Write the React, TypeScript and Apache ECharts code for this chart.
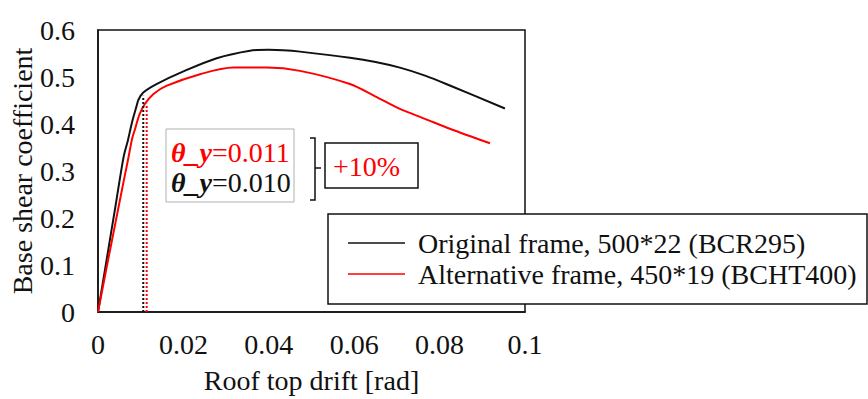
import React, { useEffect, useRef } from "react";
import * as echarts from "echarts";

const FONT = "Liberation Serif, serif";

const seriesNames = [
  "Original frame, 500*22 (BCR295)",
  "Alternative frame, 450*19 (BCHT400)",
];

const originalDrift = [0, 0.002, 0.004, 0.006, 0.007, 0.008, 0.009, 0.0095, 0.0106, 0.0137, 0.02, 0.0278, 0.0356, 0.04, 0.0434, 0.0473, 0.059, 0.065, 0.0707, 0.0766, 0.0824, 0.0953];
const originalShear = [0, 0.11, 0.22, 0.33, 0.365, 0.405, 0.437, 0.452, 0.467, 0.485, 0.512, 0.54, 0.556, 0.558, 0.557, 0.554, 0.541, 0.532, 0.52, 0.503, 0.482, 0.433];

const alternativeDrift = [0, 0.002, 0.004, 0.006, 0.0071, 0.008, 0.0087, 0.0097, 0.011, 0.013, 0.016, 0.0239, 0.0317, 0.0395, 0.0473, 0.059, 0.0649, 0.0707, 0.0766, 0.0824, 0.0918];
const alternativeShear = [0, 0.094, 0.186, 0.278, 0.327, 0.369, 0.39, 0.42, 0.443, 0.464, 0.481, 0.506, 0.52, 0.52, 0.513, 0.485, 0.459, 0.432, 0.411, 0.39, 0.359];

const yieldDrift = [0.0106, 0.0114];
const yieldShear = [0.46, 0.443];
const yieldLabels = ["θ_y=0.010", "θ_y=0.011"];
const increaseLabel = "+10%";

const xTicks = { min: 0, max: 0.1, interval: 0.02 };
const yTicks = { min: 0, max: 0.6, interval: 0.1 };

function zip(xs: number[], ys: number[]) {
  return xs.map((x, i) => [x, ys[i]]);
}

export default function App() {
  const ref = useRef<HTMLDivElement>(null);
  useEffect(() => {
    if (!ref.current) return;
    const chart = echarts.init(ref.current, undefined, { renderer: "svg" });
    const thetaRich = (color: string) => ({
      t: { fontStyle: "italic", fontWeight: "bold", fill: color, fontSize: 28, fontFamily: FONT },
      v: { fill: color, fontSize: 28, fontFamily: FONT },
    });
    const splitTheta = (s: string) => {
      const i = s.indexOf("=");
      return `{t|${s.slice(0, i)}}{v|${s.slice(i)}}`;
    };
    chart.setOption({
      animation: false,
      backgroundColor: "#fff",
      textStyle: { fontFamily: FONT },
      grid: {
        left: 98,
        top: 30,
        width: 427,
        height: 286,
        show: true,
        borderColor: "#111",
        borderWidth: 1.5,
        containLabel: false,
      },
      xAxis: {
        type: "value",
        min: xTicks.min,
        max: xTicks.max,
        interval: xTicks.interval,
        name: "Roof top drift [rad]",
        nameLocation: "middle",
        nameGap: 54,
        nameTextStyle: { fontSize: 28, color: "#111", fontFamily: FONT },
        axisLine: { show: true, lineStyle: { color: "#111", width: 1.5 } },
        axisTick: { show: false },
        splitLine: { show: false },
        axisLabel: { fontSize: 28, color: "#111", margin: 18, fontFamily: FONT },
      },
      yAxis: {
        type: "value",
        min: yTicks.min,
        max: yTicks.max,
        interval: yTicks.interval,
        name: "Base shear coefficient",
        nameLocation: "middle",
        nameGap: 62,
        nameTextStyle: { fontSize: 28, color: "#111", fontFamily: FONT },
        axisLine: { show: true, lineStyle: { color: "#111", width: 1.5 } },
        axisTick: { show: false },
        splitLine: { show: false },
        axisLabel: { fontSize: 28, color: "#111", margin: 23, fontFamily: FONT },
      },
      legend: {
        data: seriesNames,
        orient: "vertical",
        left: 348,
        top: 229,
        z: 110,
        icon: "rect",
        itemWidth: 57,
        itemHeight: 1.5,
        itemGap: 3,
        padding: 0,
        textStyle: { fontSize: 28, color: "#111", fontFamily: FONT, padding: [0, 0, 0, 8] },
      },
      series: [
        {
          name: seriesNames[0],
          type: "line",
          data: zip(originalDrift, originalShear),
          smooth: 0.3,
          symbol: "none",
          lineStyle: { color: "#111", width: 2 },
          itemStyle: { color: "#111" },
        },
        {
          name: seriesNames[1],
          type: "line",
          data: zip(alternativeDrift, alternativeShear),
          smooth: 0.3,
          symbol: "none",
          lineStyle: { color: "#ff0000", width: 2 },
          itemStyle: { color: "#ff0000" },
        },
        {
          name: "yield-original",
          type: "line",
          data: [[yieldDrift[0], 0], [yieldDrift[0], yieldShear[0]]],
          symbol: "none",
          lineStyle: { color: "#111", width: 2, type: [2, 2] },
        },
        {
          name: "yield-alternative",
          type: "line",
          data: [[yieldDrift[1], 0], [yieldDrift[1], yieldShear[1]]],
          symbol: "none",
          lineStyle: { color: "#ff0000", width: 2, type: [2, 2] },
        },
      ],
      graphic: [
        {
          type: "rect",
          z: 100,
          shape: { x: 166, y: 129, width: 128, height: 73 },
          style: { fill: "#fff", stroke: "#b0b0b0", lineWidth: 1 },
        },
        {
          type: "text",
          z: 101,
          x: 171,
          y: 152,
          style: {
            text: splitTheta(yieldLabels[1]),
            rich: thetaRich("#ff0000"),
            verticalAlign: "middle",
            align: "left",
          },
        },
        {
          type: "text",
          z: 101,
          x: 171,
          y: 182,
          style: {
            text: splitTheta(yieldLabels[0]),
            rich: thetaRich("#111"),
            verticalAlign: "middle",
            align: "left",
          },
        },
        {
          type: "polyline",
          z: 101,
          shape: { points: [[310, 138], [315, 138], [315, 200], [310, 200]] },
          style: { stroke: "#111", lineWidth: 1.5, fill: null },
        },
        {
          type: "line",
          z: 101,
          shape: { x1: 315, y1: 168, x2: 321, y2: 168 },
          style: { stroke: "#111", lineWidth: 1.5 },
        },
        {
          type: "rect",
          z: 100,
          shape: { x: 325, y: 143, width: 93, height: 45 },
          style: { fill: "#fff", stroke: "#111", lineWidth: 1.5 },
        },
        {
          type: "text",
          z: 101,
          x: 333,
          y: 166,
          style: {
            text: increaseLabel,
            fill: "#ff0000",
            fontSize: 28,
            fontFamily: FONT,
            verticalAlign: "middle",
            align: "left",
          },
        },
        {
          type: "rect",
          z: 100,
          shape: { x: 328, y: 214, width: 539, height: 90 },
          style: { fill: "#fff", stroke: "#111", lineWidth: 1.5 },
        },
      ],
    });
    return () => chart.dispose();
  }, []);
  return <div ref={ref} style={{ width: 868, height: 399, position: "absolute", left: 0, top: 0 }} />;
}
